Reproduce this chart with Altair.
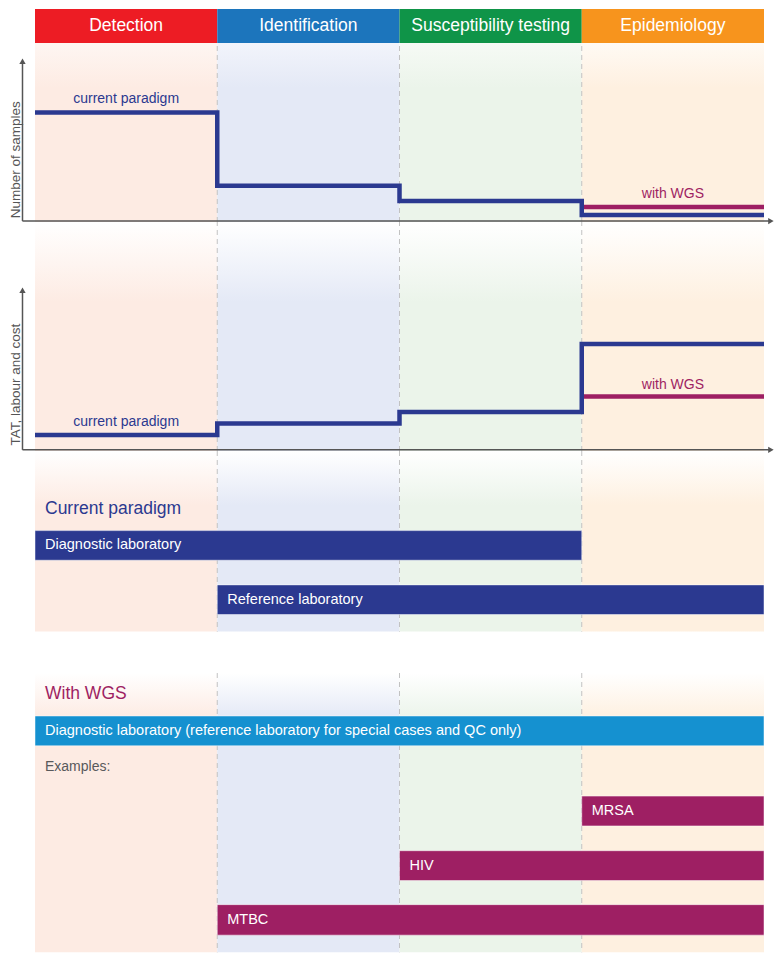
import altair as alt
import pandas as pd

FONT = "Liberation Sans"
NAVY = "#2b3990"
MAGENTA = "#9e1f63"
CYAN = "#1591d0"
GREY = "#555555"

stages = ["Detection", "Identification", "Susceptibility testing", "Epidemiology"]
stage_start = [0, 1, 2, 3]
stage_end = [1, 2, 3, 4]
header_colors = ["#ed1c24", "#1c75bc", "#0f9448", "#f7941d"]
bg_colors = ["#fdebe3", "#e4e9f6", "#ebf4ea", "#fef0e0"]
bg_faint = ["#fef6f2", "#f2f4fb", "#f6faf5", "#fffaf4"]

# Number of samples (relative units, 0-100)
samples_current = [61, 19.8, 11.3, 3.4]
samples_wgs = 7.9
# TAT, labour and cost (relative units, 0-100)
tat_current = [6.5, 11.6, 16.6, 46.5]
tat_wgs = 23.4

# Current paradigm lanes
cur_labels = ["Diagnostic laboratory", "Reference laboratory"]
cur_start = [0, 1]
cur_end = [3, 4]
cur_top = [80.7, 135.7]
cur_bottom = [110.7, 165.7]

# With WGS lanes
wgs_labels = ["Diagnostic laboratory (reference laboratory for special cases and QC only)",
              "MRSA", "HIV", "MTBC"]
wgs_start = [0, 3, 2, 1]
wgs_end = [4, 4, 4, 4]
wgs_top = [43.3, 124, 179, 233.3]
wgs_bottom = [73.3, 154, 209, 264]
wgs_colors = [CYAN, MAGENTA, MAGENTA, MAGENTA]

W = 729
XS = alt.Scale(domain=[0, 4], nice=False, zero=False)
AXIS_X = -0.0686
AXIS_END = 4.03
ARROW_X = 4.038
TITLE_X = -0.1043


def X(f):
    return alt.X(f, type="quantitative", scale=XS, axis=None)


def Y(f, ys):
    return alt.Y(f, type="quantitative", scale=ys, axis=None)


def backgrounds(ys, y0, y1, stop, faint_start):
    layers = []
    for i in range(4):
        df = pd.DataFrame({"x0": [stage_start[i]], "x1": [stage_end[i]], "y0": [y0], "y1": [y1]})
        start = bg_faint[i] if faint_start else "#ffffff"
        grad = alt.Gradient(
            gradient="linear",
            stops=[alt.GradientStop(color=start, offset=0),
                   alt.GradientStop(color=bg_colors[i], offset=stop),
                   alt.GradientStop(color=bg_colors[i], offset=1)],
            x1=0, x2=0, y1=0, y2=1)
        layers.append(alt.Chart(df).mark_rect(color=grad).encode(
            x=X("x0"), x2="x1", y=Y("y0", ys), y2="y1"))
    dash = pd.DataFrame({"x": [1, 2, 3], "y0": [y0] * 3, "y1": [y1] * 3})
    layers.append(alt.Chart(dash).mark_rule(color="#c2c2c2", strokeDash=[5, 4], strokeWidth=1).encode(
        x=X("x"), y=Y("y0", ys), y2="y1"))
    return layers


# Header
hdr = pd.DataFrame({"stage": stages, "x0": stage_start, "x1": stage_end,
                    "xm": [s + 0.5 for s in stage_start], "color": header_colors,
                    "y0": 0, "y1": 1, "ym": 0.5})
ys_h = alt.Scale(domain=[0, 1], nice=False, zero=False)
header = alt.layer(
    alt.Chart(hdr).mark_rect().encode(x=X("x0"), x2="x1", y=Y("y0", ys_h), y2="y1",
                                      color=alt.Color("color:N", scale=None, legend=None)),
    alt.Chart(hdr).mark_text(color="white", fontSize=17.5, font=FONT).encode(
        x=X("xm"), y=Y("ym", ys_h), text="stage:N"),
).properties(width=W, height=34)


def line_panel(values, wgs, ytitle, ytitle_y, cur_y, wgs_y, arrow_top, height, stop, faint):
    ys = alt.Scale(domain=[-0.5, 100], nice=False, zero=False)
    layers = backgrounds(ys, -0.5, 100, stop, faint)
    cur = pd.DataFrame({"x": [0, 1, 2, 3, 4], "y": values + [values[-1]]})
    w = pd.DataFrame({"x": [3, 4], "y": [wgs, wgs]})
    yaxis = pd.DataFrame({"x": [AXIS_X], "y0": [0], "y1": [arrow_top - 1]})
    xaxis = pd.DataFrame({"x0": [AXIS_X], "x1": [AXIS_END], "y": [0]})
    up = pd.DataFrame({"x": [AXIS_X], "y": [arrow_top]})
    right = pd.DataFrame({"x": [ARROW_X], "y": [0]})
    labels = pd.DataFrame({"x": [0.5, 3.5], "y": [cur_y, wgs_y],
                           "t": ["current paradigm", "with WGS"], "c": [NAVY, MAGENTA]})
    title = pd.DataFrame({"x": [TITLE_X], "y": [ytitle_y], "t": [ytitle]})
    layers += [
        alt.Chart(w).mark_line(color=MAGENTA, strokeWidth=4.5).encode(x=X("x"), y=Y("y", ys)),
        alt.Chart(cur).mark_line(color=NAVY, strokeWidth=4.5, interpolate="step-after",
                                 strokeJoin="miter").encode(x=X("x"), y=Y("y", ys)),
        alt.Chart(yaxis).mark_rule(color=GREY, strokeWidth=1.5).encode(x=X("x"), y=Y("y0", ys), y2="y1"),
        alt.Chart(xaxis).mark_rule(color=GREY, strokeWidth=1.5).encode(x=X("x0"), x2="x1", y=Y("y", ys)),
        alt.Chart(up).mark_point(shape="triangle-up", filled=True, color=GREY, size=40, opacity=1).encode(
            x=X("x"), y=Y("y", ys)),
        alt.Chart(right).mark_point(shape="triangle-right", filled=True, color=GREY, size=40, opacity=1).encode(
            x=X("x"), y=Y("y", ys)),
        alt.Chart(labels).mark_text(fontSize=14, font=FONT).encode(
            x=X("x"), y=Y("y", ys), text="t:N", color=alt.Color("c:N", scale=None, legend=None)),
        alt.Chart(title).mark_text(fontSize=13.5, font=FONT, color=GREY, angle=270).encode(
            x=X("x"), y=Y("y", ys), text="t:N"),
    ]
    return alt.layer(*layers).properties(width=W, height=height)


p1 = line_panel(samples_current, samples_wgs, "Number of samples", 34.4, 68.5, 15.3, 89.8, 179, 0.25, True)
p2 = line_panel(tat_current, tat_wgs, "TAT, labour and cost", 28.6, 12.3, 28.5, 70, 229, 0.35, False)


def bar_panel(title, title_color, title_y, labels, start, end, top, bottom, colors,
              bg_bottom, span, height, stop, extra=None):
    ys = alt.Scale(domain=[0, span], reverse=True, nice=False, zero=False)
    layers = backgrounds(ys, 0, bg_bottom, stop, False)
    bars = pd.DataFrame({"label": labels, "x0": start, "x1": end, "y0": top, "y1": bottom,
                         "ym": [(a + b) / 2 for a, b in zip(top, bottom)], "c": colors})
    texts = pd.DataFrame({"x": [0], "y": [title_y], "t": [title]})
    layers += [
        alt.Chart(bars).mark_rect(stroke="#ffffff", strokeWidth=0.8, strokeOpacity=0.6).encode(
            x=X("x0"), x2="x1", y=Y("y0", ys), y2="y1",
            color=alt.Color("c:N", scale=None, legend=None)),
        alt.Chart(bars).mark_text(color="white", fontSize=14.5, font=FONT, align="left", dx=10).encode(
            x=X("x0"), y=Y("ym", ys), text="label:N"),
        alt.Chart(texts).mark_text(color=title_color, fontSize=17.5, font=FONT, align="left", dx=10).encode(
            x=X("x"), y=Y("y", ys), text="t:N"),
    ]
    if extra is not None:
        ex = pd.DataFrame({"x": [0], "y": [extra[1]], "t": [extra[0]]})
        layers.append(alt.Chart(ex).mark_text(color="#58595b", fontSize=14, font=FONT, align="left", dx=10).encode(
            x=X("x"), y=Y("y", ys), text="t:N"))
    return alt.layer(*layers).properties(width=W, height=height)


p3 = bar_panel("Current paradigm", NAVY, 59, cur_labels, cur_start, cur_end, cur_top, cur_bottom,
               [NAVY, NAVY], 183, 225, 222, 0.3)
p4 = bar_panel("With WGS", MAGENTA, 20.7, wgs_labels, wgs_start, wgs_end, wgs_top, wgs_bottom,
               wgs_colors, 281.3, 282, 280, 0.16, extra=("Examples:", 94.7))

chart = alt.vconcat(header, p1, p2, p3, p4, spacing=0, bounds="flush").properties(
    padding=0, background="white"
).configure_view(stroke="transparent")

chart.save("out.html", embed_options={"renderer": "svg", "actions": False})
